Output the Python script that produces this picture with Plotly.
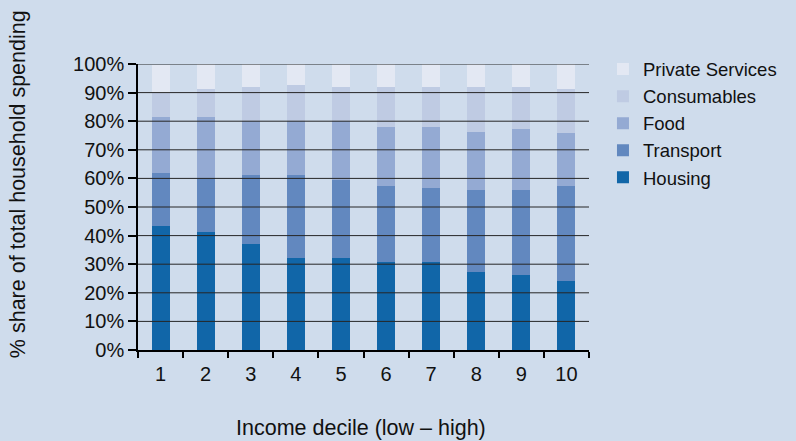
import plotly.graph_objects as go

deciles = ["1", "2", "3", "4", "5", "6", "7", "8", "9", "10"]
housing = [43.5, 41.4, 36.9, 32.3, 32.3, 30.9, 30.9, 27.4, 26.4, 24.0]
transport = [18.5, 18.9, 24.4, 29.0, 27.0, 26.6, 25.6, 28.7, 29.4, 33.2]
food = [19.6, 21.3, 18.9, 18.9, 20.7, 20.6, 21.3, 20.3, 21.3, 18.8]
consumables = [8.4, 9.8, 11.6, 12.3, 12.1, 13.7, 14.3, 15.4, 15.0, 15.1]
private_services = [9.8, 8.6, 8.2, 7.5, 7.9, 8.2, 7.9, 8.2, 7.9, 8.9]

series = [
    ("Housing", housing, "#1166a8"),
    ("Transport", transport, "#6288bf"),
    ("Food", food, "#94aad3"),
    ("Consumables", consumables, "#bfcbe3"),
    ("Private Services", private_services, "#e3e8f3"),
]

y_ticks = [0, 10, 20, 30, 40, 50, 60, 70, 80, 90, 100]

BG = "#cfdcec"
FONT = "Liberation Sans, Arial, sans-serif"

fig = go.Figure()
for name, vals, color in series:
    fig.add_trace(go.Bar(
        x=deciles, y=vals, name=name,
        marker=dict(color=color, line=dict(width=0)),
        width=0.4,
    ))

# gridlines drawn above the bars, as in the reference
for v in y_ticks[1:]:
    fig.add_shape(type="line", xref="paper", yref="y", x0=0, x1=1, y0=v, y1=v,
                  line=dict(color="#262626", width=1), layer="above")

fig.update_layout(
    barmode="stack",
    width=796, height=441,
    paper_bgcolor=BG, plot_bgcolor=BG,
    margin=dict(l=138, r=207, t=64, b=91, autoexpand=False),
    font=dict(family=FONT, color="#111", size=20),
    showlegend=True,
    legend=dict(
        traceorder="reversed",
        x=1.031, xanchor="left", y=1.047, yanchor="top",
        font=dict(size=18.5, family=FONT, color="#111"),
        bgcolor="rgba(0,0,0,0)",
        itemclick=False,
    ),
    xaxis=dict(
        type="category",
        range=[-0.5, 9.5],
        tickson="boundaries",
        ticks="outside", ticklen=6, tickwidth=1.5, tickcolor="#000",
        showline=True, linecolor="#000", linewidth=1.5,
        showgrid=False,
        ticklabelstandoff=5,
        tickfont=dict(size=20, family=FONT, color="#111"),
    ),
    yaxis=dict(
        range=[0, 100],
        tickvals=y_ticks,
        ticktext=[f"{v}%" for v in y_ticks],
        ticks="outside", ticklen=8, tickwidth=1.5, tickcolor="#000",
        showline=True, linecolor="#000", linewidth=1.5,
        showgrid=False, zeroline=False,
        tickfont=dict(size=20, family=FONT, color="#111"),
    ),
    annotations=[
        dict(text="% share of total household spending", textangle=-90,
             xref="paper", yref="paper", x=-0.266, y=0.58,
             xanchor="center", yanchor="middle", showarrow=False,
             font=dict(size=21.5, family=FONT, color="#111")),
        dict(text="Income decile (low \u2013 high)",
             xref="paper", yref="paper", x=0.495, y=-0.271,
             xanchor="center", yanchor="middle", showarrow=False,
             font=dict(size=21.5, family=FONT, color="#111")),
    ],
)

fig.write_html("out.html")
